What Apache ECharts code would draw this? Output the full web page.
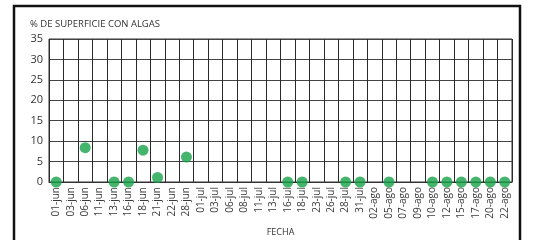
<!DOCTYPE html>
<html>
<head>
<meta charset="utf-8">
<script src="https://cdn.jsdelivr.net/npm/echarts@6/dist/echarts.min.js"></script>
<style>
html, body { margin: 0; padding: 0; background: #fff; }
#chart { width: 535px; height: 240px; }
</style>
</head>
<body>
<div id="chart"></div>
<script>
// fechas de muestreo
var fechas = ['01-jun', '03-jun', '06-jun', '11-jun', '13-jun', '16-jun', '18-jun', '21-jun', '22-jun', '28-jun',
	'01-jul', '03-jul', '06-jul', '08-jul', '11-jul', '13-jul', '16-jul', '18-jul', '23-jul', '26-jul', '28-jul', '31-jul',
	'02-ago', '05-ago', '07-ago', '09-ago', '10-ago', '12-ago', '15-ago', '17-ago', '20-ago', '22-ago'];
// % de superficie con algas (null = sin dato)
var algas = [0, null, 8.4, null, 0, 0, 7.8, 1.1, null, 6.1,
	null, null, null, null, null, null, 0, 0, null, null, 0, 0,
	null, 0, null, null, 0, 0, 0, 0, 0, 0];
var yTicks = [0, 35, 5]; // min, max, intervalo

var myChart = echarts.init(document.getElementById('chart'));
var fuente = 'Open Sans';
var option = {
	animation: false,
	graphic: [{
		type: 'rect',
		shape: { x: 14, y: 6, width: 506, height: 260 },
		style: { fill: 'none', stroke: '#111', lineWidth: 2.5 }
	}, {
		type: 'text',
		left: 30,
		top: 19,
		style: { text: '% DE SUPERFICIE CON ALGAS', font: '9.5px "Open Sans"', fill: '#333' }
	}],
	grid: {
		left: 49, right: 23, top: 39, bottom: 58,
		outerBoundsMode: 'none',
		show: true, borderColor: '#333', borderWidth: 1
	},
	xAxis: {
		type: 'category',
		data: fechas,
		boundaryGap: true,
		name: 'FECHA',
		nameLocation: 'middle',
		nameGap: 46,
		nameTextStyle: { fontFamily: fuente, fontSize: 9, color: '#333' },
		axisLine: { lineStyle: { color: '#333' } },
		axisTick: { show: false },
		axisLabel: { rotate: 90, interval: 0, fontFamily: fuente, fontSize: 10, color: '#3a3a3a', margin: 5 },
		splitLine: { show: true, interval: 0, lineStyle: { color: '#2a2a2a', width: 1 } }
	},
	yAxis: {
		type: 'value',
		min: yTicks[0],
		max: yTicks[1],
		interval: yTicks[2],
		axisLine: { show: false },
		axisTick: { show: false },
		axisLabel: { fontFamily: fuente, fontSize: 11, color: '#333', margin: 6 },
		splitLine: { lineStyle: { color: '#444', width: 1 } }
	},
	series: [{
		type: 'scatter',
		data: algas,
		symbolSize: 11,
		itemStyle: { color: '#17a348' }
	}]
};
myChart.setOption(option);
</script>
</body>
</html>
